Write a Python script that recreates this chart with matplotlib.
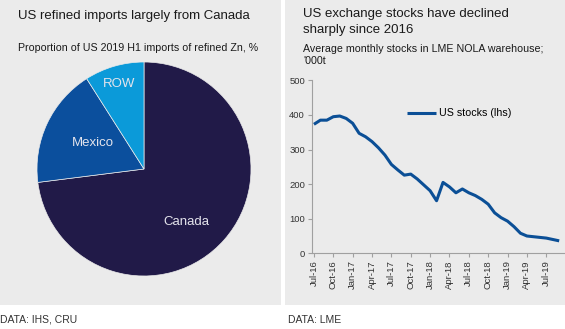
import matplotlib
matplotlib.use("Agg")
import matplotlib.pyplot as plt
from matplotlib.patches import Rectangle

plt.rcParams['font.family'] = ['Liberation Sans', 'DejaVu Sans']

# ---- data ----
pie_labels = ["Canada", "Mexico", "ROW"]
pie_values = [73, 18, 9]
pie_colors = ["#211a48", "#0b4f9d", "#0b9ad9"]

months = ["Jul-16", "Aug-16", "Sep-16", "Oct-16", "Nov-16", "Dec-16",
          "Jan-17", "Feb-17", "Mar-17", "Apr-17", "May-17", "Jun-17",
          "Jul-17", "Aug-17", "Sep-17", "Oct-17", "Nov-17", "Dec-17",
          "Jan-18", "Feb-18", "Mar-18", "Apr-18", "May-18", "Jun-18",
          "Jul-18", "Aug-18", "Sep-18", "Oct-18", "Nov-18", "Dec-18",
          "Jan-19", "Feb-19", "Mar-19", "Apr-19", "May-19", "Jun-19",
          "Jul-19", "Aug-19", "Sep-19"]
us_stocks = [373, 385, 385, 395, 397, 390,
             376, 347, 337, 323, 305, 284,
             257, 241, 226, 229, 215, 198,
             181, 152, 205, 192, 175, 186,
             175, 167, 156, 142, 117, 103,
             93, 77, 58, 50, 48, 46,
             44, 40, 36]
tick_labels = months[::3]

W, H = 565, 329
fig = plt.figure(figsize=(W / 100, H / 100), dpi=100)
fig.patch.set_facecolor("white")

def fx(px):
    return px / W

def fy(py):
    return 1 - py / H

bg = "#ebebeb"
fig.patches.append(Rectangle((0, fy(305)), fx(281), 305 / H, transform=fig.transFigure,
                             facecolor=bg, edgecolor="none", zorder=-10))
fig.patches.append(Rectangle((fx(285), fy(305)), fx(280), 305 / H, transform=fig.transFigure,
                             facecolor=bg, edgecolor="none", zorder=-10))

tc = "#1a1a1a"
# titles
fig.text(fx(18), fy(16.5), "US refined imports largely from Canada", fontsize=9.5,
         color=tc, va="center", ha="left")
fig.text(fx(18), fy(48), "Proportion of US 2019 H1 imports of refined Zn, %", fontsize=7.7,
         color=tc, va="center", ha="left")
fig.text(fx(303), fy(14.5), "US exchange stocks have declined", fontsize=9.5,
         color=tc, va="center", ha="left")
fig.text(fx(303), fy(29.5), "sharply since 2016", fontsize=9.5,
         color=tc, va="center", ha="left")
fig.text(fx(303), fy(49), "Average monthly stocks in LME NOLA warehouse;", fontsize=7.7,
         color=tc, va="center", ha="left")
fig.text(fx(303), fy(61), "'000t", fontsize=7.7, color=tc, va="center", ha="left")
fig.text(fx(0), fy(320), "DATA: IHS, CRU", fontsize=7.5, color="#333333", va="center", ha="left")
fig.text(fx(288), fy(320), "DATA: LME", fontsize=7.5, color="#333333", va="center", ha="left")

# ---- pie ----
cx, cy, r = 144, 169, 107
axp = fig.add_axes([fx(cx - r), fy(cy + r), 2 * r / W, 2 * r / H])
axp.pie(pie_values, colors=pie_colors, startangle=90, counterclock=False,
        wedgeprops=dict(linewidth=0.5, edgecolor=bg))
axp.set_xlim(-1, 1)
axp.set_ylim(-1, 1)
axp.axis("off")
label_pos = {"Canada": (0.40, -0.495), "Mexico": (-0.477, 0.243), "ROW": (-0.234, 0.794)}
for lab in pie_labels:
    x, y = label_pos[lab]
    axp.text(x, y, lab, fontsize=9.5, color="#e4e4ec", ha="center", va="center")

# ---- line ----
x0, x1, y0, y1 = 312, 565, 253.3, 80.4
axl = fig.add_axes([fx(x0), fy(y0), (x1 - x0) / W, (y0 - y1) / H])
axl.set_facecolor("none")
xs = list(range(len(months)))
axl.plot(xs, us_stocks, color="#0b4f96", linewidth=2.2, solid_capstyle="butt",
         label="US stocks (lhs)")
axl.set_ylim(0, 500)
axl.set_xlim(-0.3, 38.9)
axl.set_yticks(range(0, 501, 100))
axl.set_xticks(xs[::3])
axl.set_xticklabels(tick_labels, rotation=90)
for s in ["top", "right"]:
    axl.spines[s].set_visible(False)
for s in ["left", "bottom"]:
    axl.spines[s].set_color("#a0a0a0")
    axl.spines[s].set_linewidth(0.8)
axl.tick_params(axis="both", colors="#a0a0a0", length=3, width=0.8, labelsize=6.8,
                labelcolor="#333333", pad=2)
axl.legend(loc="upper left", bbox_to_anchor=(fx(407), fy(108.5)),
           bbox_transform=fig.transFigure, frameon=False, fontsize=7.7,
           borderpad=0, borderaxespad=0, handlelength=2.7, handletextpad=0.25)

fig.savefig("out.png", dpi=100, facecolor="white")
